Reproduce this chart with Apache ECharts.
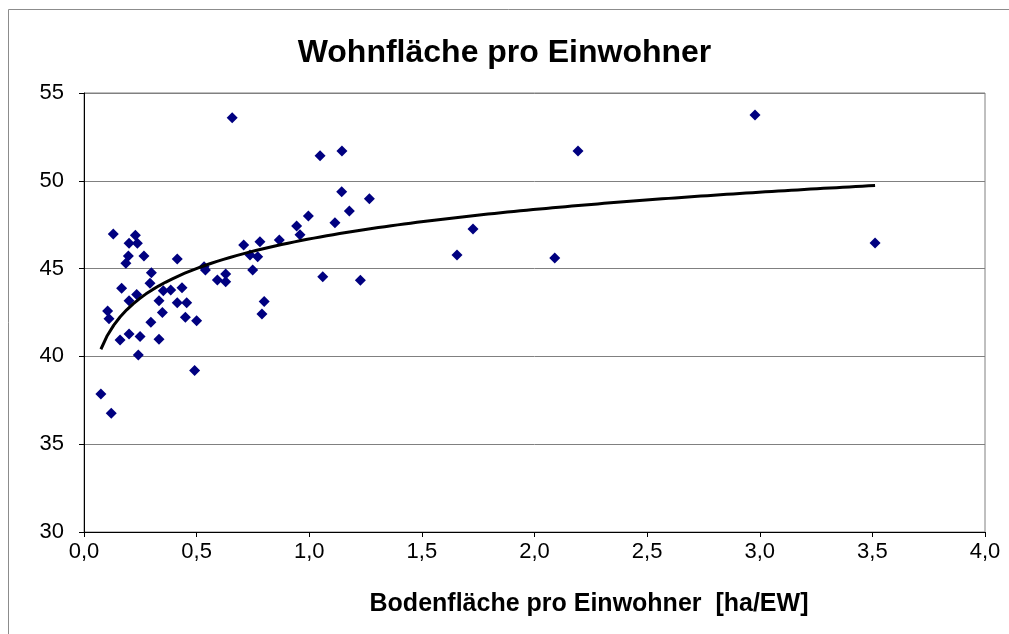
<!DOCTYPE html>
<html>
<head>
<meta charset="utf-8">
<script src="https://cdn.jsdelivr.net/npm/echarts@6/dist/echarts.min.js"></script>
<style>
  html, body { margin: 0; padding: 0; background: #fff; }
  #chart { width: 1009px; height: 634px; }
</style>
</head>
<body>
<div id="chart"></div>
<script>
// Bodenfläche pro Einwohner [ha/EW]
const bodenflaeche = [
  0.075, 0.121, 0.105, 0.111, 0.13, 0.16, 0.167, 0.186, 0.197, 0.20,
  0.20, 0.20, 0.228, 0.237, 0.234, 0.241, 0.249, 0.266, 0.297, 0.293,
  0.299, 0.333, 0.333, 0.348, 0.352, 0.385, 0.414, 0.414, 0.435, 0.45,
  0.456, 0.491, 0.5, 0.533, 0.539, 0.592, 0.629, 0.629, 0.658, 0.709,
  0.737, 0.749, 0.771, 0.781, 0.79, 0.80, 0.867, 0.944, 0.959, 0.996,
  1.048, 1.06, 1.114, 1.144, 1.145, 1.178, 1.227, 1.267, 1.656, 1.727,
  2.09, 2.193, 2.979, 3.512
]
// Wohnfläche pro Einwohner
const wohnflaeche = [
  37.86, 36.76, 42.58, 42.15, 46.97, 40.93, 43.88, 45.3, 45.72, 46.44,
  41.28, 43.17, 46.9, 46.44, 43.53, 40.08, 41.13, 45.72, 41.94, 44.16,
  44.77, 43.17, 40.98, 42.5, 43.74, 43.78, 45.55, 43.06, 43.91, 42.23,
  43.06, 39.19, 42.03, 45.11, 44.92, 44.35, 44.69, 44.25, 53.59, 46.34,
  45.77, 44.92, 45.68, 46.53, 42.42, 43.12, 46.63, 47.43, 46.93, 47.99,
  51.43, 44.54, 47.61, 49.38, 51.70, 48.28, 44.33, 48.98, 45.77, 47.25,
  45.6, 51.70, 53.75, 46.46
]

const points = bodenflaeche.map((x, i) => [x, wohnflaeche[i]])

// logarithmic trend line (like Excel's), fitted to the points
const fitLog = () => {
  const n = points.length
  let sl = 0, sy = 0, sll = 0, sly = 0
  points.forEach(([x, y]) => {
    const l = Math.log(x)
    sl += l; sy += y; sll += l * l; sly += l * y
  })
  const b = (n * sly - sl * sy) / (n * sll - sl * sl)
  const a = (sy - b * sl) / n
  const xmin = Math.min(...bodenflaeche)
  const xmax = Math.max(...bodenflaeche)
  const out = []
  for (let i = 0; i <= 120; i++) {
    const x = xmin + (xmax - xmin) * i / 120
    out.push([x, a + b * Math.log(x)])
  }
  return out
}
const trend = fitLog()

const font = 'Liberation Sans, Arial, sans-serif'

const chart = echarts.init(document.getElementById('chart'))

const option = {
  backgroundColor: '#fff',
  animation: false,
  graphic: [{
    type: 'polyline',
    shape: { points: [[8.5, 640], [8.5, 9.5], [1009, 9.5]] },
    style: { fill: 'none', stroke: '#8c8c8c', lineWidth: 1 },
    silent: true
  }],
  title: {
    text: 'Wohnfläche pro Einwohner',
    left: 'center',
    top: 32,
    textStyle: {
      fontFamily: font,
      fontSize: 32,
      fontWeight: 'bold',
      color: '#000'
    }
  },
  grid: {
    left: 84,
    right: 24,
    top: 93,
    bottom: 102,
    show: true,
    borderColor: '#808080',
    borderWidth: 1
  },
  xAxis: {
    type: 'value',
    min: 0,
    max: 4,
    interval: 0.5,
    name: 'Bodenfläche pro Einwohner  [ha/EW]',
    nameLocation: 'middle',
    nameGap: 60,
    nameTextStyle: {
      fontFamily: font,
      fontSize: 25,
      fontWeight: 'bold',
      color: '#000',
      padding: [0, 0, 0, 109]
    },
    axisLine: { show: true, lineStyle: { color: '#000', width: 1 } },
    axisTick: { show: true, length: 5, lineStyle: { color: '#000' } },
    splitLine: { show: false },
    axisLabel: {
      margin: 9,
      fontFamily: font,
      fontSize: 22,
      color: '#000',
      formatter: v => v.toFixed(1).replace('.', ',')
    }
  },
  yAxis: {
    type: 'value',
    min: 30,
    max: 55,
    interval: 5,
    axisLine: { show: true, lineStyle: { color: '#000', width: 1 } },
    axisTick: { show: true, length: 5, lineStyle: { color: '#000' } },
    splitLine: { show: true, lineStyle: { color: '#808080', width: 1 } },
    axisLabel: {
      margin: 20,
      fontFamily: font,
      fontSize: 22,
      color: '#000'
    }
  },
  series: [
    {
      type: 'scatter',
      data: points,
      symbol: 'diamond',
      symbolSize: 11,
      itemStyle: { color: '#000080', opacity: 1 },
      z: 3
    },
    {
      type: 'line',
      data: trend,
      showSymbol: false,
      smooth: false,
      lineStyle: { color: '#000', width: 3 },
      z: 4
    }
  ]
}
chart.setOption(option)
</script>
</body>
</html>
